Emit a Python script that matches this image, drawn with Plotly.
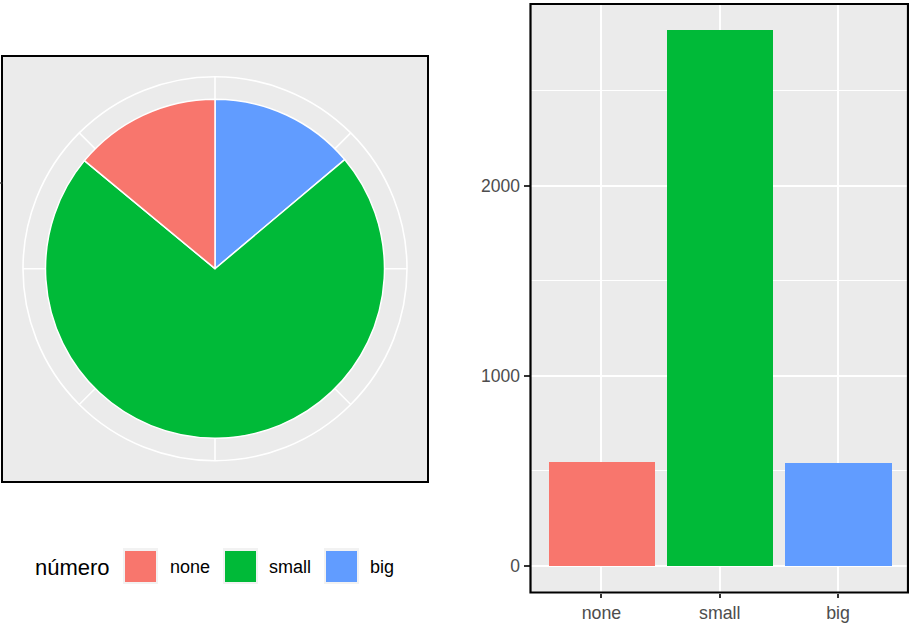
import plotly.graph_objects as go
import math

# ---- data ----
categories = ["none", "small", "big"]
counts = [547, 2819, 542]
colors = ["#F8766D", "#00BA38", "#619CFF"]
legend_title = "número"
y_tick_vals = [0, 1000, 2000]
y_tick_text = ["0", "1000", "2000"]

W, H = 909, 625
FONT = "Liberation Sans, Arial, sans-serif"

def px(x):
    return x / W

def py(y):
    return (H - y) / H

fig = go.Figure()

# ---- pie (left panel) ----
cx, cy, r_pie, r_grid = 215.0, 268.7, 169.5, 192.0
fig.add_trace(go.Pie(
    labels=categories[::-1],
    values=counts[::-1],
    marker=dict(colors=colors[::-1], line=dict(color="white", width=1.5)),
    sort=False,
    direction="clockwise",
    rotation=0,
    textinfo="none",
    showlegend=False,
    domain=dict(x=[px(cx - r_pie), px(cx + r_pie)], y=[py(cy + r_pie), py(cy - r_pie)]),
))

# ---- bars (right panel) ----
fig.add_trace(go.Bar(
    x=categories,
    y=counts,
    marker=dict(color=colors, line=dict(width=0)),
    width=0.9,
    showlegend=False,
    xaxis="x", yaxis="y",
))

shapes = []
# pie panel background + border
shapes.append(dict(type="rect", xref="paper", yref="paper",
                   x0=px(2), x1=px(428), y0=py(482), y1=py(56),
                   fillcolor="#EBEBEB", line=dict(color="black", width=2), layer="below"))
# polar grid circle
shapes.append(dict(type="circle", xref="paper", yref="paper",
                   x0=px(cx - r_grid), x1=px(cx + r_grid), y0=py(cy + r_grid), y1=py(cy - r_grid),
                   line=dict(color="white", width=1.6), layer="below"))
# radial grid lines
for k in range(8):
    a = math.radians(45 * k)
    shapes.append(dict(type="line", xref="paper", yref="paper",
                       x0=px(cx), y0=py(cy),
                       x1=px(cx + r_grid * math.sin(a)), y1=py(cy - r_grid * math.cos(a)),
                       line=dict(color="white", width=1.6), layer="below"))
# tiny axis tick at far left of pie panel
shapes.append(dict(type="line", xref="paper", yref="paper",
                   x0=px(0), x1=px(2.5), y0=py(183), y1=py(183),
                   line=dict(color="#333333", width=1.2)))
# bar panel border
shapes.append(dict(type="rect", xref="paper", yref="paper",
                   x0=px(530.5), x1=px(908), y0=py(592.5), y1=py(4),
                   line=dict(color="black", width=2.2), fillcolor="rgba(0,0,0,0)", layer="above"))

# manual legend
annotations = [dict(text=legend_title, x=px(33), y=py(567), xref="paper", yref="paper",
                    xanchor="left", yanchor="middle", showarrow=False,
                    font=dict(family=FONT, size=22, color="black"))]
key_x = [125, 225, 326]
label_x = [168, 267, 368]
for i, cat in enumerate(categories):
    shapes.append(dict(type="rect", xref="paper", yref="paper",
                       x0=px(key_x[i] - 2), x1=px(key_x[i] + 33), y0=py(584), y1=py(548),
                       fillcolor="#F2F2F2", line=dict(width=0), layer="above"))
    shapes.append(dict(type="rect", xref="paper", yref="paper",
                       x0=px(key_x[i]), x1=px(key_x[i] + 31), y0=py(582), y1=py(551),
                       fillcolor=colors[i], line=dict(width=0), layer="above"))
    annotations.append(dict(text=cat, x=px(label_x[i]), y=py(567), xref="paper", yref="paper",
                            xanchor="left", yanchor="middle", showarrow=False,
                            font=dict(family=FONT, size=18, color="black")))

fig.update_layout(
    width=W, height=H,
    margin=dict(l=0, r=0, t=0, b=0),
    paper_bgcolor="white",
    plot_bgcolor="#EBEBEB",
    font=dict(family=FONT),
    shapes=shapes,
    annotations=annotations,
    bargap=0,
    xaxis=dict(domain=[px(530.5), 1.0], range=[-0.6, 2.6], type="category",
               showgrid=True, gridcolor="white", gridwidth=1.6,
               ticks="outside", ticklen=4, tickwidth=1.5, tickcolor="#333333",
               tickfont=dict(family=FONT, size=17.8, color="#4D4D4D"),
               showline=False, zeroline=False, fixedrange=True),
    yaxis=dict(domain=[py(592.5), py(3)], range=[-141, 2960],
               tickvals=y_tick_vals, ticktext=y_tick_text,
               showgrid=True, gridcolor="white", gridwidth=1.6,
               minor=dict(tickvals=[500, 1500, 2500], showgrid=True, gridcolor="white", gridwidth=0.8, ticks=""),
               ticks="outside", ticklen=6, tickwidth=1.5, tickcolor="#333333",
               tickfont=dict(family=FONT, size=17.5, color="#4D4D4D"),
               showline=False, zeroline=False, fixedrange=True),
)

fig.write_html("out.html", config={"displayModeBar": False},
               post_script="document.body.style.margin='0';document.body.style.overflow='hidden';")
